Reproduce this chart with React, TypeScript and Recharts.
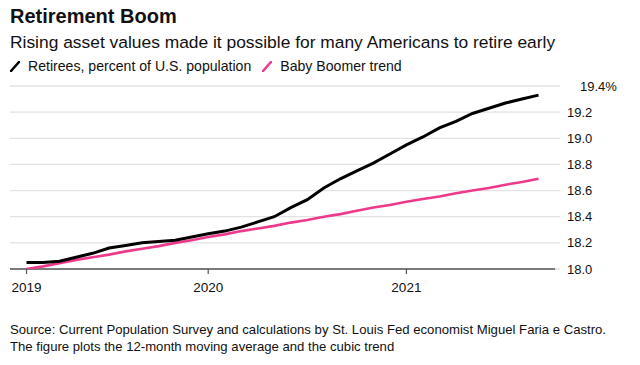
import React from 'react';
import { LineChart, Line, XAxis, YAxis, CartesianGrid, ReferenceLine } from 'recharts';

// Month index: 0 = Jan 2019, 12 = Jan 2020, 24 = Jan 2021
const monthIndex = [1, 2, 3, 4, 5, 6, 7, 8, 9, 10, 11, 12, 13, 14, 15, 16, 17, 18, 19, 20, 21, 22, 23, 24, 25, 26, 27, 28, 29, 30, 31, 32];
const retirees = [18.05, 18.05, 18.06, 18.09, 18.12, 18.16, 18.18, 18.2, 18.21, 18.22, 18.245, 18.27, 18.29, 18.32, 18.36, 18.4, 18.47, 18.53, 18.62, 18.69, 18.75, 18.81, 18.88, 18.95, 19.01, 19.08, 19.13, 19.19, 19.23, 19.27, 19.3, 19.33];
const boomerTrend = [18.0, 18.02, 18.045, 18.07, 18.09, 18.11, 18.135, 18.155, 18.175, 18.2, 18.22, 18.245, 18.265, 18.29, 18.31, 18.33, 18.355, 18.375, 18.4, 18.42, 18.445, 18.47, 18.49, 18.515, 18.535, 18.555, 18.58, 18.6, 18.62, 18.645, 18.665, 18.69];

const xTickValues = [1, 12, 24];
const xTickLabels = ['2019', '2020', '2021'];
const yTickValues = [18.0, 18.2, 18.4, 18.6, 18.8, 19.0, 19.2, 19.4];
const yTickLabels = ['18.0', '18.2', '18.4', '18.6', '18.8', '19.0', '19.2', '19.4%'];

const data = monthIndex.map((m, i) => ({ m, retirees: retirees[i], trend: boomerTrend[i] }));

const FONT = '"Liberation Sans", Arial, sans-serif';
const PINK = '#ee3a8c';

const XTick = (props: any) => {
  const { x, y, payload } = props;
  const idx = xTickValues.indexOf(payload.value);
  return (
    <text x={x} y={y + 16} textAnchor="middle" fontFamily={FONT} fontSize={13.5} fill="#111">
      {xTickLabels[idx]}
    </text>
  );
};

const YTick = (props: any) => {
  const { x, y, payload } = props;
  const idx = yTickValues.indexOf(payload.value);
  const isTop = idx === yTickValues.length - 1;
  return (
    <text x={x - 1 + (isTop ? 13 : 0)} y={y + 4.5} textAnchor="start" fontFamily={FONT} fontSize={13} fill="#111">
      {yTickLabels[idx]}
    </text>
  );
};

const Slash = ({ color }: { color: string }) => (
  <svg width={10} height={11} style={{ display: 'inline-block', verticalAlign: 'middle' }}>
    <line x1={1} y1={10} x2={9} y2={1} stroke={color} strokeWidth={2.6} strokeLinecap="round" />
  </svg>
);

export default function App() {
  return (
    <div style={{ position: 'absolute', left: 0, top: 0, width: 640, height: 365, background: '#fff', fontFamily: FONT, color: '#111' }}>
      <div style={{ position: 'absolute', left: 10, top: 6, fontSize: 20, fontWeight: 700, lineHeight: '20px', whiteSpace: 'nowrap' }}>
        Retirement Boom
      </div>
      <div style={{ position: 'absolute', left: 10, top: 33, fontSize: 17.4, lineHeight: '18px', whiteSpace: 'nowrap' }}>
        Rising asset values made it possible for many Americans to retire early
      </div>
      <div style={{ position: 'absolute', left: 10, top: 58, fontSize: 14.1, lineHeight: '16px', whiteSpace: 'nowrap', display: 'flex', alignItems: 'center' }}>
        <Slash color="#000" />
        <span style={{ marginLeft: 8 }}>Retirees, percent of U.S. population</span>
        <span style={{ marginLeft: 11 }} />
        <Slash color={PINK} />
        <span style={{ marginLeft: 8 }}>Baby Boomer trend</span>
      </div>
      <div style={{ position: 'absolute', left: 0, top: 0 }}>
        <LineChart width={640} height={300} data={data} margin={{ top: 86, right: 0, bottom: 0, left: 10 }}>
          <CartesianGrid vertical={false} stroke="#e2e2e2" strokeWidth={1.3} />
          <XAxis
            dataKey="m"
            type="number"
            domain={[0, 33.3]}
            ticks={xTickValues}
            axisLine={false}
            tickLine={{ stroke: '#555', strokeWidth: 1.2 }}
            tickSize={5}
            height={31}
            tick={<XTick />}
            allowDataOverflow
          />
          <YAxis
            orientation="right"
            type="number"
            domain={[18, 19.4]}
            ticks={yTickValues}
            axisLine={false}
            tickLine={false}
            width={80}
            tick={<YTick />}
            allowDataOverflow
          />
          <ReferenceLine segment={[{ x: 0, y: 18 }, { x: 33, y: 18 }]} stroke="#555" strokeWidth={1.3} />
          <Line type="linear" dataKey="trend" stroke={PINK} strokeWidth={2.6} dot={false} isAnimationActive={false} />
          <Line type="linear" dataKey="retirees" stroke="#000" strokeWidth={3} dot={false} isAnimationActive={false} />
        </LineChart>
      </div>
      <div style={{ position: 'absolute', left: 10, top: 322, fontSize: 13.15, lineHeight: '16.5px', width: 630 }}>
        <div style={{ whiteSpace: 'nowrap' }}>Source: Current Population Survey and calculations by St. Louis Fed economist Miguel Faria e Castro.</div>
        <div style={{ whiteSpace: 'nowrap' }}>The figure plots the 12-month moving average and the cubic trend</div>
      </div>
    </div>
  );
}
